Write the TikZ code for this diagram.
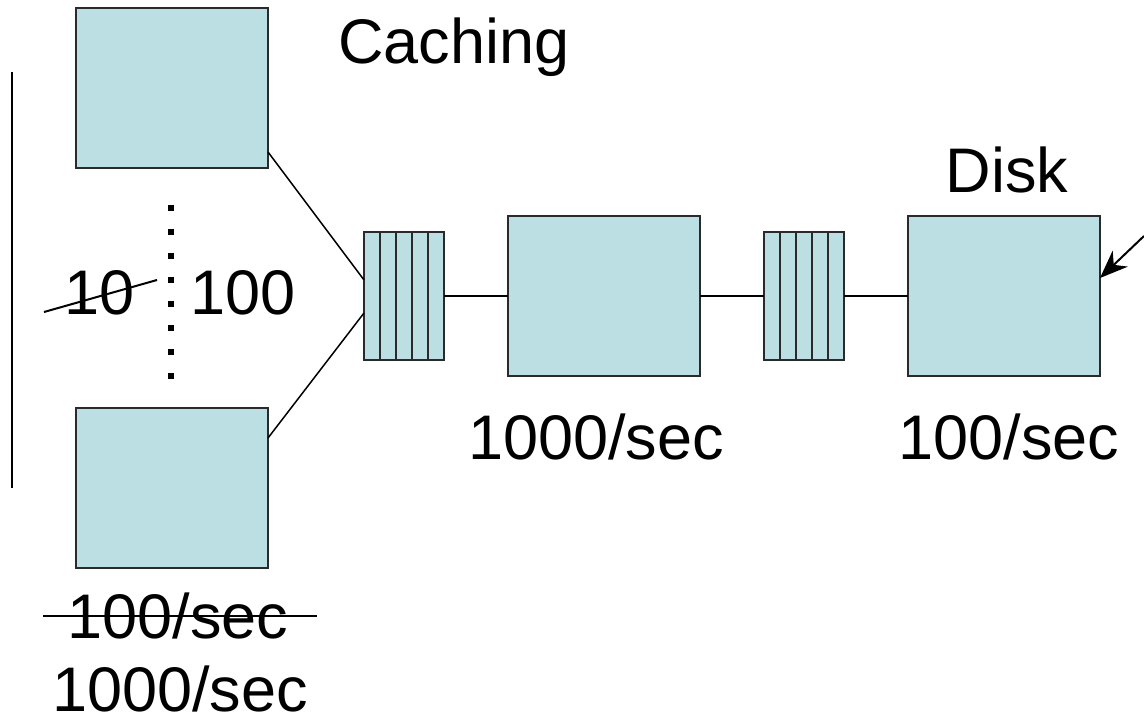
\documentclass[tikz,border=0pt]{standalone}
\usepackage{fontspec}
\setmainfont{Liberation Sans}
\usetikzlibrary{arrows.meta}
\definecolor{boxfill}{HTML}{BBDFE2}
\definecolor{boxline}{HTML}{2A2A2A}
\tikzset{
  srv/.style={draw=boxline, line width=2pt, fill=boxfill, minimum width=192pt, minimum height=160pt, inner sep=0pt, outer sep=0pt},
  que/.style={draw=boxline, line width=2pt, fill=boxfill, minimum width=80pt, minimum height=128pt, inner sep=0pt, outer sep=0pt},
  conn/.style={line width=1.5pt, black},
  lbl/.style={font=\fontsize{63}{72}\selectfont, inner sep=0pt, anchor=base},
  strike/.style={line width=2pt, black},
}
\begin{document}
\begin{tikzpicture}[x=1pt,y=-1pt]
\useasboundingbox (0,0) rectangle (1144,722);
% boxes
\node[srv] (topbox) at (172,88) {};
\node[srv] (botbox) at (172,488) {};
\node[srv] (midbox) at (604,296) {};
\node[srv] (disk) at (1004,296) {};
\node[que] (q1) at (404,296) {};
\node[que] (q2) at (804,296) {};
\foreach \q in {q1,q2}{
  \foreach \i in {1,2,3,4}{
    \draw[draw=boxline, line width=2pt] ([xshift=16*\i pt]\q.north west) -- ([xshift=16*\i pt]\q.south west);
  }
}
% connectors
\draw[conn] ([yshift=16pt]topbox.south east) -- ([yshift=16pt]q1.west);
\draw[conn] ([yshift=-30pt]botbox.north east) -- ([yshift=-17pt]q1.west);
\draw[conn] (q1.east) -- (midbox.west);
\draw[conn] (midbox.east) -- (q2.west);
\draw[conn] (q2.east) -- (disk.west);
\coordinate (arrstart) at (1144,236);
\draw[line width=2pt, black, -{Stealth[length=28pt,width=22pt,inset=9pt]}] (arrstart) -- ([yshift=18pt]disk.east);
% left bar
\coordinate (bartop) at (12,72);
\coordinate (barbot) at (12,488);
\draw[conn] (bartop) -- (barbot);
% dots
\coordinate (dotstop) at (171,205);
\coordinate (dotsbot) at (171,382);
\draw[line width=6pt, dash pattern=on 6pt off 18pt] (dotstop) -- (dotsbot);
% labels
\node[lbl] (caching) at (454,64) {Caching};
\node[lbl] (disklbl) at (1007,193) {Disk};
\node[lbl] (midrate) at (596,459) {1000/sec};
\node[lbl] (diskrate) at (1009,459) {100/sec};
\node[lbl] (ten) at (100,314) {10};
\node[lbl] (hundred) at (243,314) {100};
\node[lbl] (oldrate) at (178,638) {100/sec};
\node[lbl] (newrate) at (180,711) {1000/sec};
% strike-throughs
\coordinate (s1a) at (44,312);
\coordinate (s1b) at (157,280);
\draw[strike] (s1a) -- (s1b);
\coordinate (s2a) at (43,616);
\coordinate (s2b) at (317,616);
\draw[strike] (s2a) -- (s2b);
\end{tikzpicture}
\end{document}
